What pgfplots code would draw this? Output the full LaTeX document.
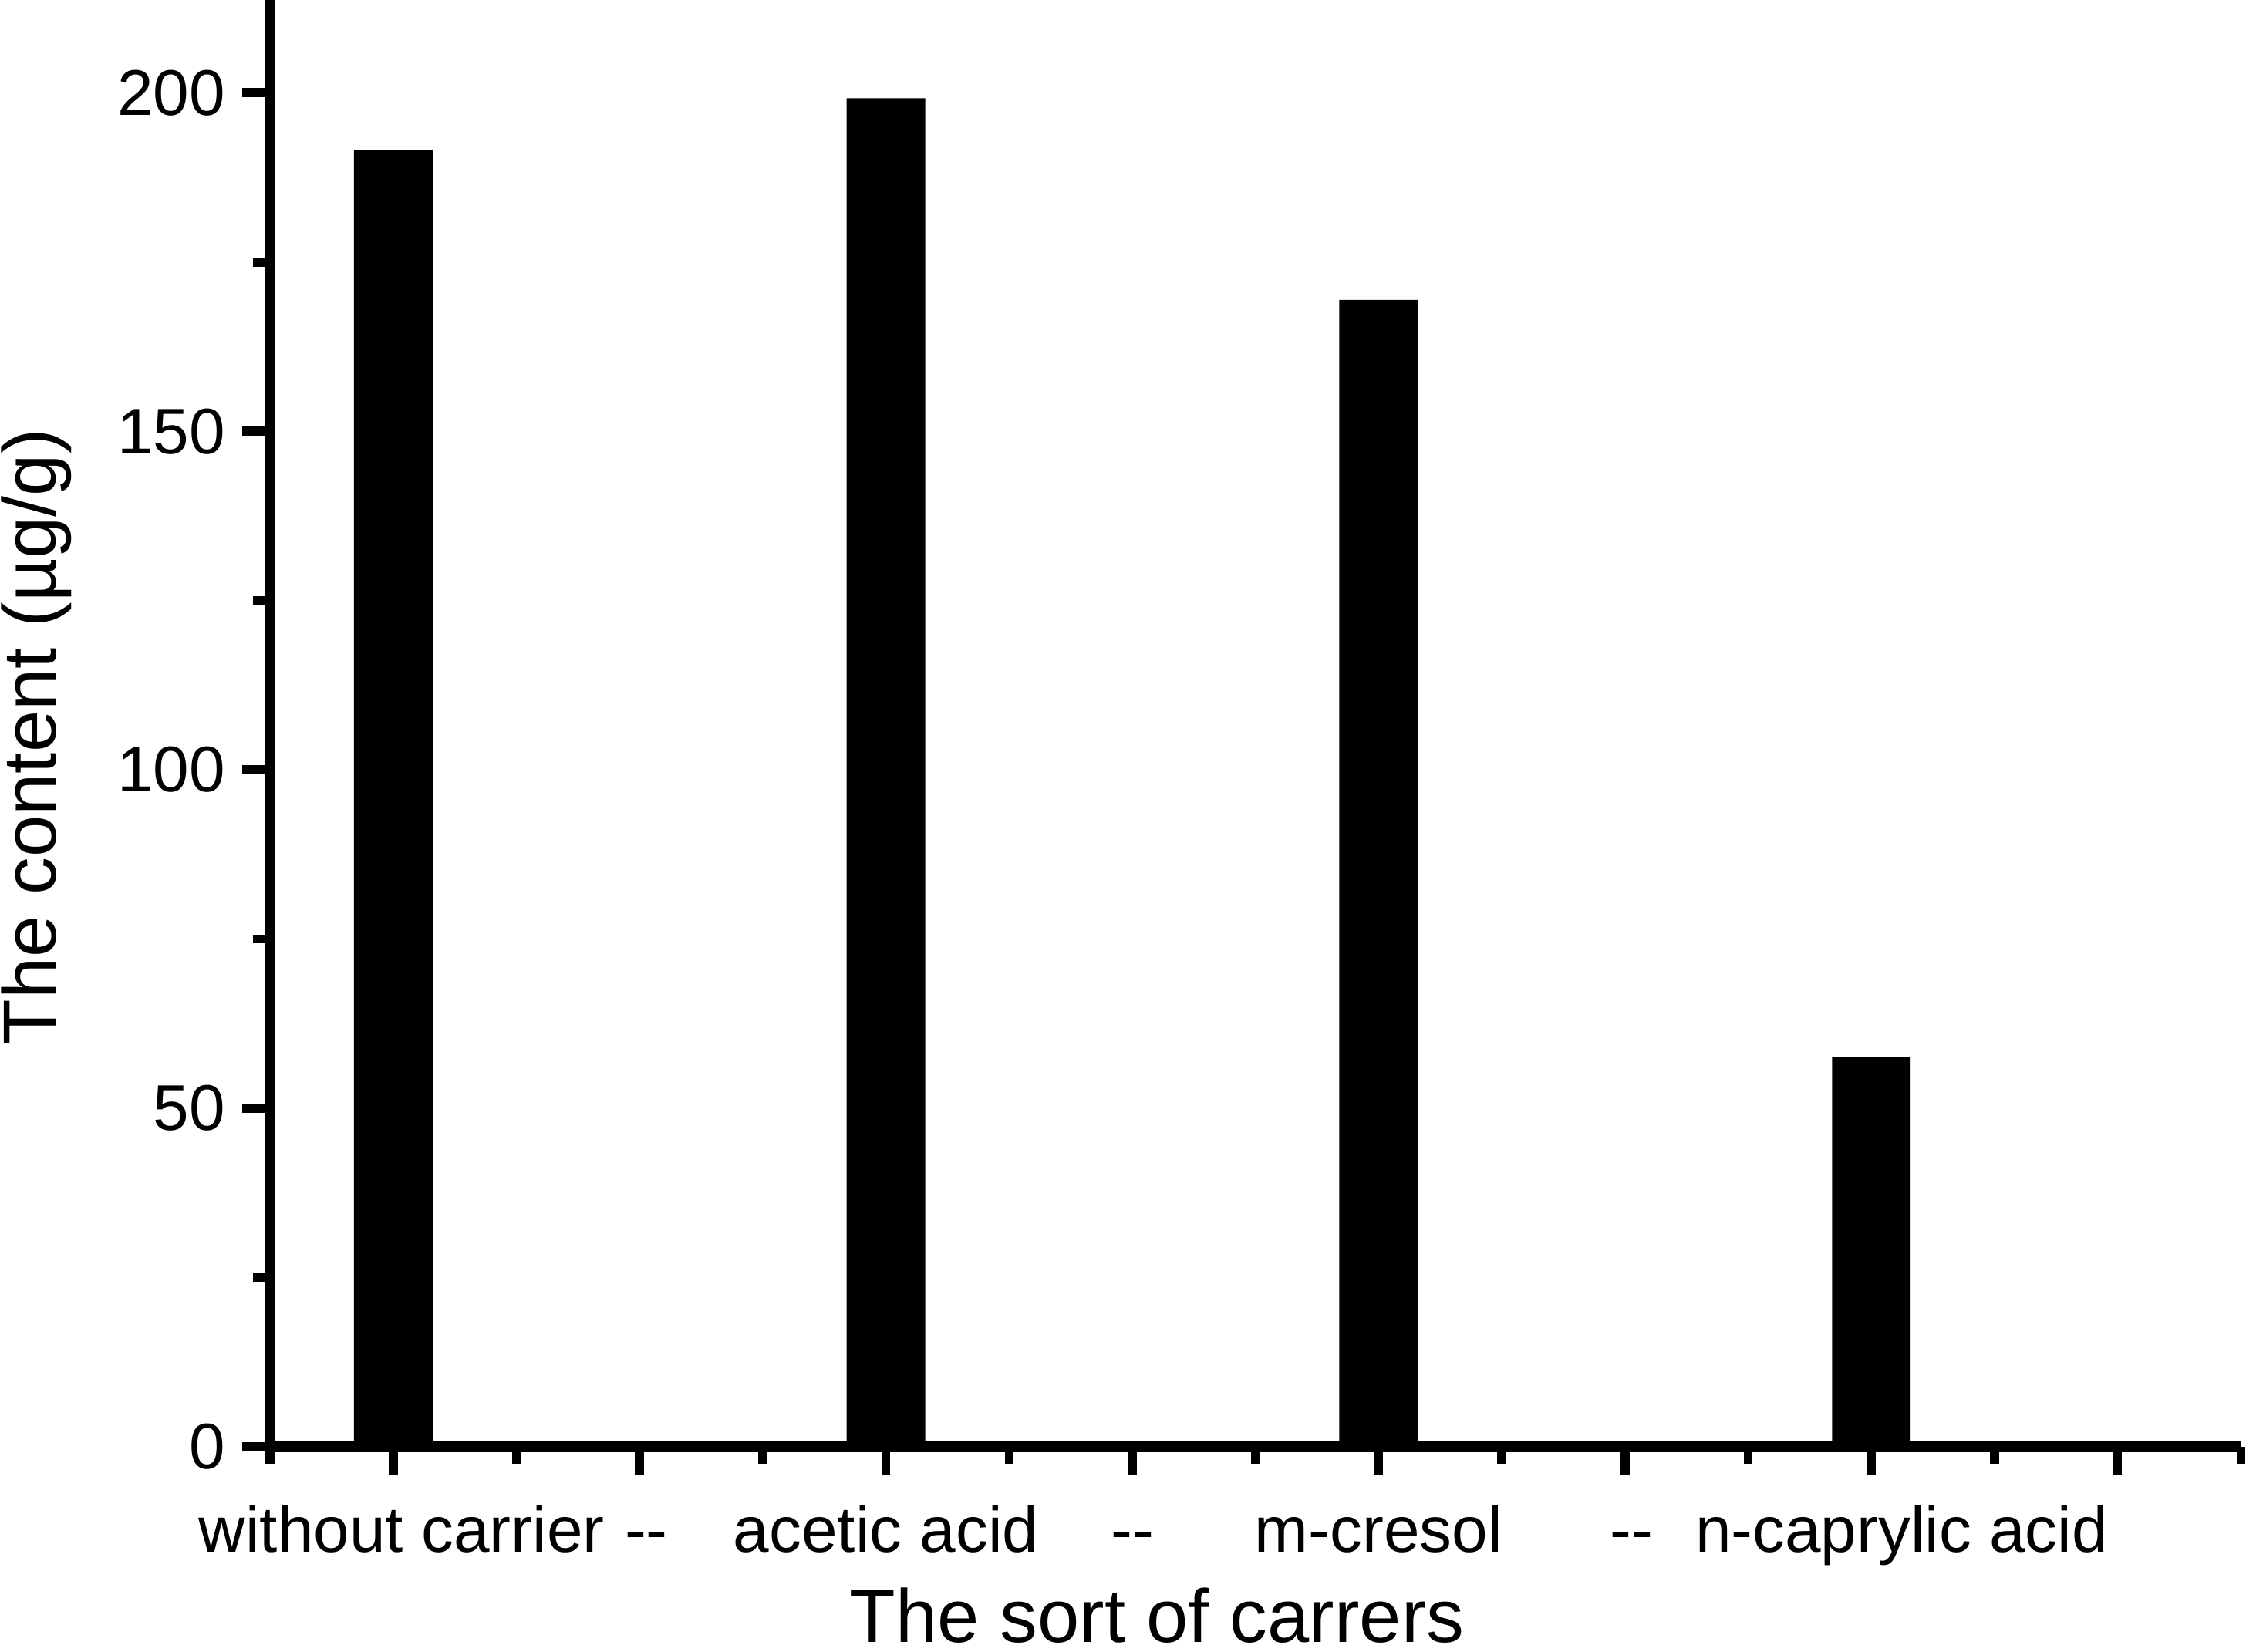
\documentclass[border=0pt]{standalone}
\usepackage{fontspec}
\setmainfont{Liberation Sans}
\usepackage{pgfplots}
\pgfplotsset{compat=1.18}
\begin{document}
\begin{tikzpicture}
\useasboundingbox (-48.1pt,-36.5pt) rectangle (351.9pt,257.7pt);
\begin{axis}[
  at={(0,0)}, anchor=south west,
  scale only axis, width=351pt, height=257.7pt,
  xmin=0.5, xmax=8.5, ymin=0, ymax=213.7,
  axis lines=left,
  axis line style={-, line width=1.8pt, black},
  tick align=outside,
  major tick length=5pt, minor tick length=3pt,
  every tick/.append style={line width=1.6pt, black},
  xtick={1,2,3,4,5,6,7,8},
  minor xtick={0.5,1.5,2.5,3.5,4.5,5.5,6.5,7.5,8.5},
  ytick={0,50,100,150,200},
  minor ytick={25,75,125,175},
  xticklabels={{\hspace*{3pt}without carrier},{\hspace*{2.4pt}-{}-},{acetic acid},{-{}-},{m-cresol},{\hspace*{2.4pt}-{}-},{\hspace*{10.8pt}n-caprylic acid},{}},
  xticklabel style={font=\fontsize{11.5}{13}\selectfont, anchor=base, inner sep=0pt, yshift=-13.8pt},
  yticklabel style={font=\fontsize{11.5}{13}\selectfont, anchor=east, inner sep=0pt, xshift=-2.8pt},
  /pgf/number format/assume math mode=true,
  every axis x label/.style={at={(rel axis cs:0.45,0)}, yshift=-34.8pt, anchor=base, inner sep=0pt, font=\fontsize{13.4}{16}\selectfont},
  every axis y label/.style={at={(rel axis cs:0,0.4905)}, xshift=-38.1pt, rotate=90, anchor=base, inner sep=0pt, font=\fontsize{13.4}{16}\selectfont},
  xlabel={The sort of carrers},
  ylabel={The content (µg/g)},
  ybar, bar width=14pt,
  clip=false,
]
\addplot[fill=black, draw=none] coordinates {(1,191.6) (3,199.2) (5,169.4) (7,57.6)};
\end{axis}
\end{tikzpicture}
\end{document}
